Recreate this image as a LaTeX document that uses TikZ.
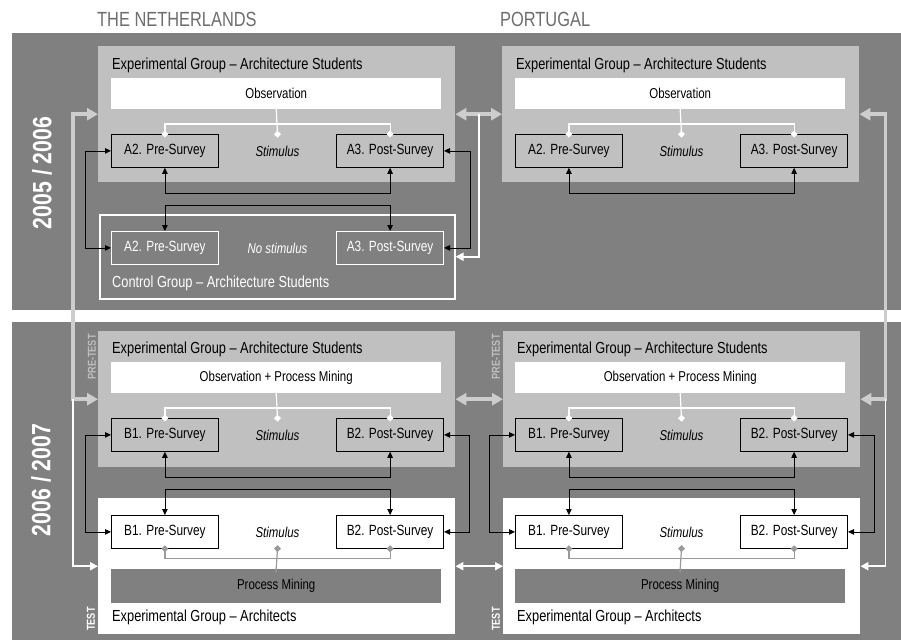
\documentclass[tikz,border=0pt]{standalone}
\usepackage{fontspec}
\setmainfont{Liberation Sans}[FakeStretch=0.8]
\usetikzlibrary{positioning}
\usetikzlibrary{arrows.meta}
\usetikzlibrary{calc}

\definecolor{band}{HTML}{808080}
\definecolor{groupfill}{HTML}{C0C0C0}
\definecolor{headgray}{HTML}{6E6E6E}
\definecolor{palelink}{HTML}{CDCDCD}
\definecolor{pmlink}{HTML}{9A9A9A}
\definecolor{phasegray}{HTML}{BEBEBE}

\begin{document}
\begin{tikzpicture}[x=1pt,y=-1pt,
    group/.style={anchor=north west,fill=groupfill,minimum width=357pt,minimum height=136pt,inner sep=0},
    testgroup/.style={group,fill=white},
    ctrlgroup/.style={anchor=north west,draw=white,line width=1.5pt,minimum width=355pt,minimum height=84pt,inner sep=0},
    title/.style={anchor=west,inner sep=0,font=\fontsize{16}{18}\selectfont},
    header/.style={anchor=west,inner sep=0,text=headgray,font=\fontsize{20.5}{23}\selectfont},
    year/.style={rotate=90,text=white,font=\fontsize{26.5}{28}\selectfont\bfseries},
    phase/.style={rotate=90,inner sep=0,font=\fontsize{11.5}{13}\selectfont\bfseries},
    obsbox/.style={anchor=north west,fill=white,minimum width=330pt,minimum height=31pt,inner sep=0,font=\fontsize{14.3}{16}\selectfont},
    pmbox/.style={obsbox,fill=band,minimum height=34pt},
    survey/.style={draw=black,line width=0.8pt,minimum width=107pt,minimum height=33pt,inner sep=0,font=\fontsize{14.8}{16}\selectfont},
    nullsurvey/.style={survey,draw=white,text=white},
    stim/.style={minimum width=117pt,minimum height=33pt,inner sep=0,font=\fontsize{14.3}{16}\selectfont\itshape},
    link/.style={draw=black,line width=0.8pt,>={Triangle[length=6pt,width=5.5pt]},<->},
    paleway/.style={draw=palelink,line width=3.5pt,>={Triangle[length=11pt,width=12pt]}},
    whiteway/.style={draw=white,line width=1.8pt,>={Triangle[length=8pt,width=8pt]}},
    obsline/.style={draw=white,line width=1.2pt,>={Diamond[length=7pt,width=7pt]},shorten <=-3.5pt,shorten >=-3.5pt},
    pmline/.style={obsline,draw=pmlink}]

    \fill[white] (0,0) rectangle (901,640);
    \useasboundingbox (0,0) rectangle (901,640);

    % the two years
    \fill[band] (12,33) rectangle (901,310);
    \fill[band] (12,322) rectangle (901,640);
    \node[header] (hNL) at (97,19) {THE NETHERLANDS};
    \node[header] (hPT) at (500,19) {PORTUGAL};
    \node[year] (y1) at (42,173) {2005 / 2006};
    \node[year] (y2) at (41,480) {2006 / 2007};

    % 2005/2006 - the Netherlands, experimental group
    \node[group] (nlExp) at (98,46) {};
    \node[title] (nlExpT) at (112,65) {Experimental Group – Architecture Students};
    \node[obsbox] (nlObs) at (111,78) {Observation};
    \node[survey,anchor=north west] (nlA2) at (111,134) {A2. Pre-Survey};
    \node[stim,right=0pt of nlA2] (nlStim) {Stimulus};
    \node[survey,right=0pt of nlStim] (nlA3) {A3. Post-Survey};

    % 2005/2006 - the Netherlands, control group
    \node[ctrlgroup] (nlCtrl) at (99,214) {};
    \node[nullsurvey,anchor=north west] (nlA2c) at (111,231) {A2. Pre-Survey};
    \node[stim,text=white,right=0pt of nlA2c] (nlNoStim) {No stimulus};
    \node[nullsurvey,right=0pt of nlNoStim] (nlA3c) {A3. Post-Survey};
    \node[title,text=white] (nlCtrlT) at (112,283) {Control Group – Architecture Students};

    % 2005/2006 - Portugal
    \node[group] (ptExp) at (502,46) {};
    \node[title] (ptExpT) at (516,65) {Experimental Group – Architecture Students};
    \node[obsbox] (ptObs) at (515,78) {Observation};
    \node[survey,anchor=north west] (ptA2) at (515,134) {A2. Pre-Survey};
    \node[stim,right=0pt of ptA2] (ptStim) {Stimulus};
    \node[survey,right=0pt of ptStim] (ptA3) {A3. Post-Survey};

    % 2006/2007 - the Netherlands, pre-test
    \node[group] (nlPre) at (98,331) {};
    \node[title] (nlPreT) at (112,349) {Experimental Group – Architecture Students};
    \node[obsbox] (nlObsPM) at (111,362) {Observation + Process Mining};
    \node[survey,anchor=north west] (nlB1p) at (111,418) {B1. Pre-Survey};
    \node[stim,right=0pt of nlB1p] (nlStimP) {Stimulus};
    \node[survey,right=0pt of nlStimP] (nlB2p) {B2. Post-Survey};
    \node[phase,text=phasegray] (nlPreL) at (92,357) {PRE-TEST};

    % 2006/2007 - the Netherlands, test
    \node[testgroup] (nlTest) at (98,498) {};
    \node[survey,anchor=north west] (nlB1t) at (111,515) {B1. Pre-Survey};
    \node[stim,right=0pt of nlB1t] (nlStimT) {Stimulus};
    \node[survey,right=0pt of nlStimT] (nlB2t) {B2. Post-Survey};
    \node[pmbox] (nlPM) at (111,569) {Process Mining};
    \node[title] (nlTestT) at (112,617) {Experimental Group – Architects};
    \node[phase,text=white] (nlTestL) at (91,619) {TEST};

    % 2006/2007 - Portugal, pre-test
    \node[group] (ptPre) at (503,331) {};
    \node[title] (ptPreT) at (517,349) {Experimental Group – Architecture Students};
    \node[obsbox] (ptObsPM) at (515,362) {Observation + Process Mining};
    \node[survey,anchor=north west] (ptB1p) at (515,418) {B1. Pre-Survey};
    \node[stim,right=0pt of ptB1p] (ptStimP) {Stimulus};
    \node[survey,right=0pt of ptStimP] (ptB2p) {B2. Post-Survey};
    \node[phase,text=phasegray] (ptPreL) at (496,357) {PRE-TEST};

    % 2006/2007 - Portugal, test
    \node[testgroup] (ptTest) at (503,498) {};
    \node[survey,anchor=north west] (ptB1t) at (515,515) {B1. Pre-Survey};
    \node[stim,right=0pt of ptB1t] (ptStimT) {Stimulus};
    \node[survey,right=0pt of ptStimT] (ptB2t) {B2. Post-Survey};
    \node[pmbox] (ptPM) at (515,569) {Process Mining};
    \node[title] (ptTestT) at (517,617) {Experimental Group – Architects};
    \node[phase,text=white] (ptTestL) at (496,619) {TEST};

    % observation feeds the surveys and the stimulus
    \draw[obsline,->] (nlObs.south) -- (nlStim.north);
    \draw[obsline,<->] (nlA2.north) -- ++(0,-10) -| (nlA3.north);
    \draw[obsline,->] (ptObs.south) -- (ptStim.north);
    \draw[obsline,<->] (ptA2.north) -- ++(0,-10) -| (ptA3.north);
    \draw[obsline,->] (nlObsPM.south) -- (nlStimP.north);
    \draw[obsline,<->] (nlB1p.north) -- ++(0,-10) -| (nlB2p.north);
    \draw[obsline,->] (ptObsPM.south) -- (ptStimP.north);
    \draw[obsline,<->] (ptB1p.north) -- ++(0,-10) -| (ptB2p.north);

    % process mining under the test
    \draw[pmline,<-] (nlStimT.south) -- (nlPM.north);
    \draw[pmline,<->] (nlB1t.south) -- ++(0,10) -| (nlB2t.south);
    \draw[pmline,<-] (ptStimT.south) -- (ptPM.north);
    \draw[pmline,<->] (ptB1t.south) -- ++(0,10) -| (ptB2t.south);

    % pre- and post-surveys compared
    \draw[link] (nlA2.west) -- ++(-26,0) |- (nlA2c.west);
    \draw[link] (nlA3.east) -- ++(26,0) |- (nlA3c.east);
    \draw[link] (nlA2.south) -- ++(0,26) -| (nlA3.south);
    \draw[link] (nlA2c.north) -- ++(0,-26) -| (nlA3c.north);
    \draw[link] (ptA2.south) -- ++(0,26) -| (ptA3.south);

    \draw[link] (nlB1p.west) -- ++(-26,0) |- (nlB1t.west);
    \draw[link] (nlB2p.east) -- ++(25,0) |- (nlB2t.east);
    \draw[link] (nlB1p.south) -- ++(0,26) -| (nlB2p.south);
    \draw[link] (nlB1t.north) -- ++(0,-26) -| (nlB2t.north);
    \draw[link] (ptB1p.west) -- ++(-26,0) |- (ptB1t.west);
    \draw[link] (ptB2p.east) -- ++(26,0) |- (ptB2t.east);
    \draw[link] (ptB1p.south) -- ++(0,26) -| (ptB2p.south);
    \draw[link] (ptB1t.north) -- ++(0,-26) -| (ptB2t.north);

    % groups compared across years and countries
    \draw[paleway,<->] (nlPre.west) -- ++(-25,0) coordinate (lj) |- (nlExp.west);
    \draw[whiteway,->] (lj) |- (nlTest.west);
    \draw[paleway,<->] (ptPre.east) -- ++(25,0) coordinate (rj) |- (ptExp.east);
    \draw[whiteway,->] (rj) |- (ptTest.east);
    \draw[paleway,<->] (nlExp.east) -- (ptExp.west);
    \coordinate (mj) at ($(nlExp.east)!0.5!(ptExp.west)$);
    \draw[whiteway,->] (mj) |- (nlCtrl.east);
    \draw[paleway,<->] (nlPre.east) -- (ptPre.west);
    \draw[whiteway,<->] (nlTest.east) -- (ptTest.west);
\end{tikzpicture}
\end{document}
